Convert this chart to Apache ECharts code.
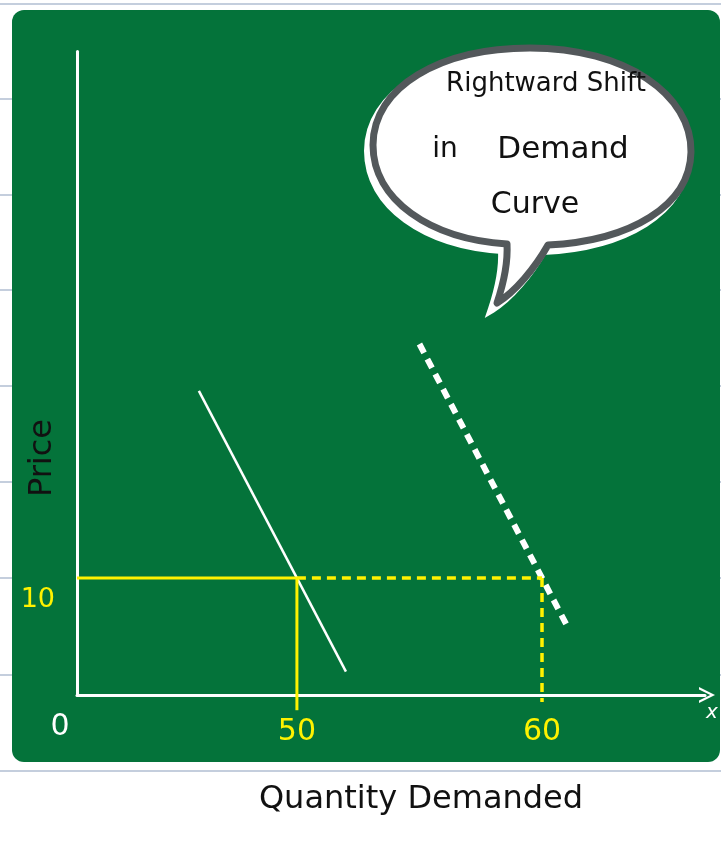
<!DOCTYPE html>
<html>
<head>
<meta charset="utf-8">
<script src="https://cdn.jsdelivr.net/npm/echarts@6/dist/echarts.min.js"></script>
<style>
  html, body { margin: 0; padding: 0; background: #ffffff; }
  #chart { width: 721px; height: 844px; }
</style>
</head>
<body>
<div id="chart"></div>
<script>
// Demand curves as (quantity, price) end points
const demandOriginal = [[46, 26], [52, 2]];
const demandShifted = [[55, 30], [61, 6]];

// Market price and the quantities demanded at that price
const marketPrice = 10;
const quantityBefore = 50;
const quantityAfter = 60;

// Tick labels written on the axes
const quantityTicks = [quantityBefore, quantityAfter];
const priceTicks = [marketPrice];

const GREEN = '#04733a';
const YELLOW = '#fff200';
const HAND = '"DejaVu Sans", "Noto Sans", sans-serif';

// Speech bubble outline, registered as a reusable shape
const bubblePath =
  'M530,48 C626,48 692,95 691,152 C690,206 630,241 548,245 ' +
  'C535,268 515,292 497,303 C503,285 508,262 507,244 ' +
  'C430,239 373,200 373,145 C373,87 440,48 530,48 Z';
echarts.graphic.registerShape('speechBubble', echarts.graphic.extendPath(bubblePath, {}));

const chart = echarts.init(document.getElementById('chart'), null, { renderer: 'canvas' });

const option = {
  backgroundColor: '#ffffff',
  animation: false,
  grid: { left: 77, right: 16, top: 51.5, bottom: 149, containLabel: false, outerBoundsMode: 'none' },
  xAxis: [
    {
      // quantity scale: sketched, not to scale between the origin and 46
      type: 'value',
      min: 0,
      max: 66.65,
      breaks: [{ start: 2, end: 46, gap: '11.6%' }],
      breakArea: { show: false },
      splitLine: { show: false },
      axisTick: { show: false },
      axisLine: { show: false },
      axisLabel: {
        show: true,
        customValues: quantityTicks,
        color: YELLOW,
        fontFamily: HAND,
        fontSize: 30,
        margin: 22
      }
    },
    {
      // plain baseline with the arrow head
      type: 'value',
      position: 'bottom',
      min: 0,
      max: 1,
      splitLine: { show: false },
      axisTick: { show: false },
      axisLabel: { show: false },
      axisLine: {
        show: true,
        onZero: false,
        lineStyle: { color: '#ffffff', width: 3 },
        symbol: ['none', 'path://M0,20 L10,0 L20,20 L17,20 L10,6 L3,20 Z'],
        symbolSize: [20, 16],
        symbolOffset: [0, 2]
      }
    }
  ],
  yAxis: {
    type: 'value',
    min: 0,
    max: 55,
    splitLine: { show: false },
    axisTick: { show: false },
    axisLine: { show: true, onZero: false, lineStyle: { color: '#ffffff', width: 3 } },
    axisLabel: {
      show: true,
      customValues: priceTicks,
      color: YELLOW,
      fontFamily: HAND,
      fontSize: 27,
      margin: 22,
      verticalAlign: 'top',
      padding: [8, 0, 0, 0]
    }
  },
  series: [
    {
      name: 'Demand',
      type: 'line',
      data: demandOriginal,
      symbol: 'none',
      z: 3,
      lineStyle: { color: '#ffffff', width: 2.5 }
    },
    {
      name: 'Shifted demand',
      type: 'line',
      data: demandShifted,
      symbol: 'none',
      z: 3,
      lineStyle: { color: '#ffffff', width: 6, type: [10, 7], cap: 'butt' }
    },
    {
      name: 'Price level',
      type: 'line',
      data: [[0, marketPrice], [quantityBefore, marketPrice]],
      symbol: 'none',
      z: 4,
      lineStyle: { color: YELLOW, width: 3 }
    },
    {
      name: 'Quantity before',
      type: 'line',
      clip: false,
      data: [[quantityBefore, marketPrice], [quantityBefore, -1.3]],
      symbol: 'none',
      z: 4,
      lineStyle: { color: YELLOW, width: 3 }
    },
    {
      name: 'Price level (after shift)',
      type: 'line',
      data: [[quantityBefore, marketPrice], [quantityAfter, marketPrice]],
      symbol: 'none',
      z: 4,
      lineStyle: { color: YELLOW, width: 3.5, type: [9, 6] }
    },
    {
      name: 'Quantity after',
      type: 'line',
      clip: false,
      data: [[quantityAfter, marketPrice], [quantityAfter, -0.6]],
      symbol: 'none',
      z: 4,
      lineStyle: { color: YELLOW, width: 3.5, type: [9, 6] }
    }
  ]
};

chart.setOption(option);

// Origin label placed from the axis scales
const origin = chart.convertToPixel({ xAxisIndex: 0, yAxisIndex: 0 }, [0, 0]);

// Ruled notebook paper behind the board
const ruleYs = [4, 99, 195, 290, 386, 482, 578, 675, 771];
const rules = ruleYs.map(function (y) {
  return {
    type: 'line', z: -20, silent: true,
    shape: { x1: 0, y1: y, x2: 721, y2: y },
    style: { stroke: '#c4cedd', lineWidth: 2 }
  };
});

chart.setOption({
  graphic: rules.concat([
    {
      type: 'rect', z: -10, silent: true,
      shape: { x: 12, y: 10, width: 708, height: 752, r: 12 },
      style: { fill: GREEN }
    },
    // speech bubble: white halo, then outlined body
    {
      type: 'speechBubble', z: 50, silent: true,
      x: -5, y: 6,
      style: { fill: '#ffffff', stroke: '#ffffff', lineWidth: 8 }
    },
    {
      type: 'speechBubble', z: 51, silent: true,
      style: { fill: '#ffffff', stroke: '#53585b', lineWidth: 7, lineJoin: 'round' }
    },
    {
      type: 'text', z: 52, x: 546, y: 84,
      style: { text: 'Rightward Shift', fill: '#111111', font: '26px ' + HAND, align: 'center', verticalAlign: 'middle' }
    },
    {
      type: 'text', z: 52, x: 445, y: 150,
      style: { text: 'in', fill: '#111111', font: '28px ' + HAND, align: 'center', verticalAlign: 'middle' }
    },
    {
      type: 'text', z: 52, x: 563, y: 150,
      style: { text: 'Demand', fill: '#111111', font: '31px ' + HAND, align: 'center', verticalAlign: 'middle' }
    },
    {
      type: 'text', z: 52, x: 535, y: 205,
      style: { text: 'Curve', fill: '#111111', font: '30px ' + HAND, align: 'center', verticalAlign: 'middle' }
    },
    // axis titles
    {
      type: 'text', z: 10, x: 43, y: 458, rotation: Math.PI / 2,
      style: { text: 'Price', fill: '#111111', font: '32px ' + HAND, align: 'center', verticalAlign: 'middle' }
    },
    {
      type: 'text', z: 10, x: 421, y: 800,
      style: { text: 'Quantity Demanded', fill: '#111111', font: '32px ' + HAND, align: 'center', verticalAlign: 'middle' }
    },
    {
      type: 'text', z: 10, x: 712, y: 713,
      style: { text: 'x', fill: '#ffffff', font: 'italic 20px ' + HAND, align: 'center', verticalAlign: 'middle' }
    },
    {
      type: 'text', z: 10, x: origin[0] - 17, y: origin[1] + 32,
      style: { text: '0', fill: '#ffffff', font: '30px ' + HAND, align: 'center', verticalAlign: 'middle' }
    }
  ])
});
</script>
</body>
</html>
